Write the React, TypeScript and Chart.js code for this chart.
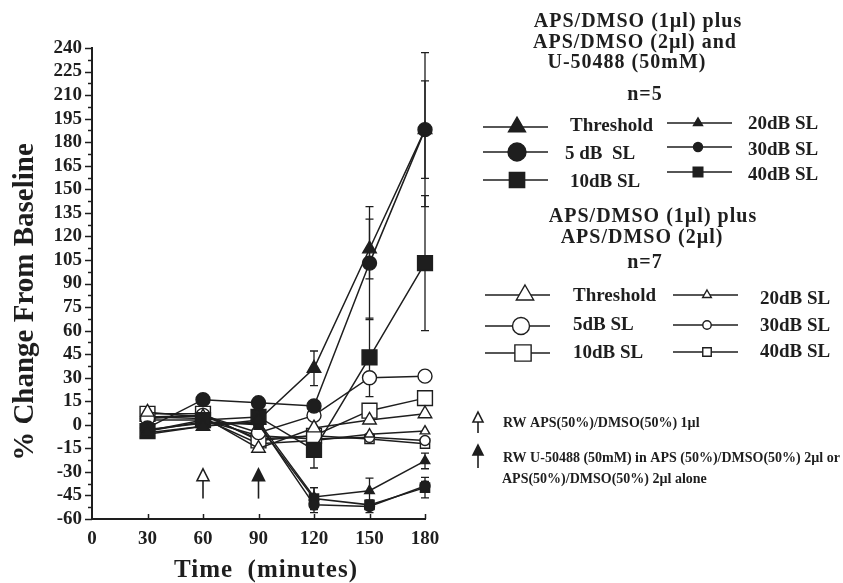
import React, { useEffect, useRef } from 'react';
import { Chart, registerables } from 'chart.js';
import { drawPoint } from 'chart.js/helpers';

Chart.register(...registerables);

const INK = '#1e1e1e';
const SERIF = '"Liberation Serif", "Times New Roman", serif';

// ---------- data ----------
const times = [30, 60, 90, 120, 150, 180];
const xTickValues = [0, 30, 60, 90, 120, 150, 180];
const yMin = -60;
const yMax = 240;
const yMajorStep = 15;
const yMinorStep = 7.5;

// APS/DMSO (1µl) plus APS/DMSO (2µl) and U-50488 (50mM), n=5 (filled symbols)
const uThreshold = [-5, -1, 3, 36, 112, 188];
const uThresholdErr = [0, 0, 0, 11, 19, 49];
const u5dB = [-2, 16, 14, 12, 103, 188];
const u5dBErr = [0, 0, 0, 0, 36, 31];
const u10dB = [-4, 3, 5, -16, 43, 103];
const u10dBErr = [0, 0, 0, 11.5, 25, 43];
const u20dB = [-6, -1, 2, -46, -42, -23];
const u20dBErr = [0, 0, 0, 6, 8, 5];
const u30dB = [-3, 1, 1, -51, -52, -39];
const u30dBErr = [0, 0, 0, 5, 4, 3];
const u40dB = [-4, 2, 0, -47, -51, -40];
const u40dBErr = [0, 0, 0, 7, 3, 6.5];

// APS/DMSO (1µl) plus APS/DMSO (2µl), n=7 (open symbols)
const aThreshold = [8, 5, -15, -2, 3, 7];
const a5dB = [4, 6, -5, 6, 30, 31];
const a10dB = [7, 7, -10, -7, 9, 17];
const a20dB = [5, 4, -12, -10, -6, -4];
const a30dB = [3, 3, -7, -9, -8, -10];
const a40dB = [5, 6, -9, -7, -9, -12];

// injection arrows
const arrowTimes = [60, 90];
const arrowFilled = [false, true];
const arrowTipValue = -28;
const arrowTailValue = -47;

// texts
const yTitle = '% Change From Baseline';
const xTitle = 'Time  (minutes)';
const titleU = ['APS/DMSO (1µl) plus', 'APS/DMSO (2µl) and', 'U-50488 (50mM)'];
const nU = 'n=5';
const labelsU = ['Threshold', '5 dB  SL', '10dB SL', '20dB SL', '30dB SL', '40dB SL'];
const titleA = ['APS/DMSO (1µl) plus', 'APS/DMSO (2µl)'];
const nA = 'n=7';
const labelsA = ['Threshold', '5dB SL', '10dB SL', '20dB SL', '30dB SL', '40dB SL'];
const notes = [
  'RW APS(50%)/DMSO(50%) 1µl',
  'RW U-50488 (50mM) in APS (50%)/DMSO(50%) 2µl or',
  'APS(50%)/DMSO(50%) 2µl alone',
];

// ---------- styles ----------
const styles = ['triangle', 'circle', 'rect', 'triangle', 'circle', 'rect'];
const chartRadii = [7.8, 7, 10.5, 5.5, 5, 6.5];
const legendRadiiU = [9.8, 9, 10.8, 5.2, 4.5, 6.8];
const legendRadiiA = [10, 8.5, 11.5, 5, 4.2, 6];

function makeDataset(label: string, values: number[], errors: number[] | null, idx: number, filled: boolean) {
  return {
    label,
    data: times.map((t, i) => ({ x: t, y: values[i] })),
    errors,
    pointStyle: styles[idx],
    pointRadius: chartRadii[idx],
    pointBackgroundColor: filled ? INK : '#ffffff',
    pointBorderColor: INK,
    pointBorderWidth: 1.4,
    borderColor: INK,
    borderWidth: 1.5,
    showLine: true,
    fill: false,
    tension: 0,
    clip: false,
  };
}

const datasets = [
  makeDataset('Threshold (U-50488)', uThreshold, uThresholdErr, 0, true),
  makeDataset('5 dB SL (U-50488)', u5dB, u5dBErr, 1, true),
  makeDataset('10dB SL (U-50488)', u10dB, u10dBErr, 2, true),
  makeDataset('20dB SL (U-50488)', u20dB, u20dBErr, 3, true),
  makeDataset('30dB SL (U-50488)', u30dB, u30dBErr, 4, true),
  makeDataset('40dB SL (U-50488)', u40dB, u40dBErr, 5, true),
  makeDataset('Threshold (APS/DMSO)', aThreshold, null, 0, false),
  makeDataset('5dB SL (APS/DMSO)', a5dB, null, 1, false),
  makeDataset('10dB SL (APS/DMSO)', a10dB, null, 2, false),
  makeDataset('20dB SL (APS/DMSO)', a20dB, null, 3, false),
  makeDataset('30dB SL (APS/DMSO)', a30dB, null, 4, false),
  makeDataset('40dB SL (APS/DMSO)', a40dB, null, 5, false),
];

function font(size: number) {
  return `bold ${size}px ${SERIF}`;
}

function marker(ctx: CanvasRenderingContext2D, style: string, r: number, x: number, y: number, filled: boolean) {
  ctx.save();
  ctx.fillStyle = filled ? INK : '#ffffff';
  ctx.strokeStyle = INK;
  ctx.lineWidth = 1.4;
  drawPoint(ctx, { pointStyle: style, radius: r, borderWidth: 1.4, rotation: 0 } as any, x, y);
  ctx.restore();
}

function arrow(ctx: CanvasRenderingContext2D, x: number, yTip: number, yTail: number, filled: boolean, w: number, h: number) {
  ctx.save();
  ctx.strokeStyle = INK;
  ctx.fillStyle = filled ? INK : '#ffffff';
  ctx.lineWidth = 1.6;
  ctx.beginPath();
  ctx.moveTo(x, yTip + h);
  ctx.lineTo(x, yTail);
  ctx.stroke();
  ctx.beginPath();
  ctx.moveTo(x, yTip);
  ctx.lineTo(x + w / 2, yTip + h);
  ctx.lineTo(x - w / 2, yTip + h);
  ctx.closePath();
  ctx.fill();
  ctx.stroke();
  ctx.restore();
}

function legendRow(ctx: CanvasRenderingContext2D, x0: number, x1: number, mx: number, ly: number, style: string, r: number, filled: boolean, text: string, tx: number, ty: number) {
  ctx.save();
  ctx.strokeStyle = INK;
  ctx.lineWidth = 1.5;
  ctx.beginPath();
  ctx.moveTo(x0, ly);
  ctx.lineTo(x1, ly);
  ctx.stroke();
  ctx.restore();
  marker(ctx, style, r, mx, ly, filled);
  ctx.fillText(text, tx, ty);
}

function setSpacing(ctx: any, px: number) {
  if ('letterSpacing' in ctx) ctx.letterSpacing = `${px}px`;
}

const decor = {
  id: 'decor',
  beforeDatasetsDraw(chart: any) {
    const { ctx } = chart;
    const xs = chart.scales.x;
    const ys = chart.scales.y;
    ctx.save();
    ctx.strokeStyle = INK;
    ctx.lineWidth = 1.3;
    chart.data.datasets.forEach((ds: any) => {
      if (!ds.errors) return;
      ds.data.forEach((p: any, i: number) => {
        const e = ds.errors[i];
        if (!e) return;
        const px = xs.getPixelForValue(p.x);
        const top = ys.getPixelForValue(p.y + e);
        const bot = ys.getPixelForValue(p.y - e);
        ctx.beginPath();
        ctx.moveTo(px, top);
        ctx.lineTo(px, bot);
        ctx.moveTo(px - 4, top);
        ctx.lineTo(px + 4, top);
        ctx.moveTo(px - 4, bot);
        ctx.lineTo(px + 4, bot);
        ctx.stroke();
      });
    });
    ctx.restore();
  },
  afterDraw(chart: any) {
    const { ctx, chartArea } = chart;
    const xs = chart.scales.x;
    const ys = chart.scales.y;
    ctx.save();
    ctx.strokeStyle = INK;
    ctx.fillStyle = INK;
    ctx.lineWidth = 1.5;

    // y ticks (major + minor, outward)
    for (let v = yMin; v <= yMax + 0.001; v += yMinorStep) {
      const py = Math.round(ys.getPixelForValue(v)) + 0.5;
      const len = Math.abs(v % yMajorStep) < 0.01 ? 7 : 4;
      ctx.beginPath();
      ctx.moveTo(chartArea.left - len, py);
      ctx.lineTo(chartArea.left, py);
      ctx.stroke();
    }
    // x ticks (inward)
    xTickValues.forEach((v) => {
      if (v === 0) return;
      const px = Math.round(xs.getPixelForValue(v)) + 0.5;
      ctx.beginPath();
      ctx.moveTo(px, chartArea.bottom);
      ctx.lineTo(px, chartArea.bottom - 5);
      ctx.stroke();
    });

    // arrows in plot
    arrowTimes.forEach((t, i) => {
      arrow(ctx, xs.getPixelForValue(t), ys.getPixelForValue(arrowTipValue), ys.getPixelForValue(arrowTailValue), arrowFilled[i], 12, 12);
    });

    // axis titles
    ctx.textBaseline = 'alphabetic';
    ctx.textAlign = 'center';
    ctx.font = font(25);
    setSpacing(ctx, 1);
    ctx.fillText(xTitle, 266, 577);
    setSpacing(ctx, 0);
    ctx.save();
    ctx.translate(33, 302);
    ctx.rotate(-Math.PI / 2);
    ctx.font = font(29);
    ctx.fillText(yTitle, 0, 0);
    ctx.restore();

    // legend group 1
    ctx.font = font(20);
    setSpacing(ctx, 1);
    ctx.textAlign = 'center';
    ctx.fillText(titleU[0], 638, 27);
    ctx.fillText(titleU[1], 635, 48);
    ctx.fillText(titleU[2], 627, 68);
    ctx.fillText(nU, 645, 100);
    setSpacing(ctx, 0);
    ctx.textAlign = 'left';
    ctx.font = font(19);
    const u1y = [127, 152, 180];
    const u1ty = [131, 159, 187];
    const u2y = [123, 147, 172];
    const u2ty = [129, 155, 180];
    for (let i = 0; i < 3; i++) {
      legendRow(ctx, 483, 548, 517, u1y[i], styles[i], legendRadiiU[i], true, labelsU[i], i === 1 ? 565 : 570, u1ty[i]);
      legendRow(ctx, 667, 732, 698, u2y[i], styles[i + 3], legendRadiiU[i + 3], true, labelsU[i + 3], 748, u2ty[i]);
    }

    // legend group 2
    ctx.font = font(20);
    setSpacing(ctx, 1);
    ctx.textAlign = 'center';
    ctx.fillText(titleA[0], 653, 222);
    ctx.fillText(titleA[1], 642, 243);
    ctx.fillText(nA, 645, 268);
    setSpacing(ctx, 0);
    ctx.textAlign = 'left';
    ctx.font = font(19);
    const a1y = [295, 326, 353];
    const a1ty = [301, 330, 358];
    const a2y = [295, 325, 352];
    const a2ty = [304, 331, 357];
    const a1mx = [525, 521, 523];
    for (let i = 0; i < 3; i++) {
      legendRow(ctx, 485, 550, a1mx[i], a1y[i], styles[i], legendRadiiA[i], false, labelsA[i], 573, a1ty[i]);
      legendRow(ctx, 673, 738, 707, a2y[i], styles[i + 3], legendRadiiA[i + 3], false, labelsA[i + 3], 760, a2ty[i]);
    }

    // notes
    arrow(ctx, 478, 412, 433, false, 10, 10);
    arrow(ctx, 478, 445, 468, true, 10, 10);
    ctx.font = font(14);
    ctx.fillText(notes[0], 503, 427);
    ctx.fillText(notes[1], 503, 462);
    ctx.fillText(notes[2], 502, 483);

    ctx.restore();
  },
};

export default function App() {
  const ref = useRef<HTMLCanvasElement>(null);
  useEffect(() => {
    const tickFont = { family: SERIF, size: 19, weight: 'bold' as const };
    const chart = new Chart(ref.current as HTMLCanvasElement, {
      type: 'line',
      data: { datasets: datasets as any },
      options: {
        responsive: false,
        animation: false,
        devicePixelRatio: 1,
        layout: { padding: { top: 48, right: 418, left: 0, bottom: 0 } },
        plugins: { legend: { display: false }, tooltip: { enabled: false } },
        scales: {
          x: {
            type: 'linear',
            min: 0,
            max: 180,
            afterBuildTicks: (s: any) => {
              s.ticks = xTickValues.map((v) => ({ value: v }));
            },
            afterFit: (s: any) => {
              s.height = 64;
            },
            ticks: { font: tickFont, color: INK, padding: 9, maxRotation: 0, autoSkip: false },
            grid: { display: false, drawTicks: false },
            border: { display: true, color: INK, width: 2 },
          },
          y: {
            type: 'linear',
            min: yMin,
            max: yMax,
            afterBuildTicks: (s: any) => {
              const t: any[] = [];
              for (let v = yMin; v <= yMax; v += yMajorStep) t.push({ value: v });
              s.ticks = t;
            },
            afterFit: (s: any) => {
              s.width = 92;
            },
            ticks: { font: tickFont, color: INK, padding: 10, autoSkip: false },
            grid: { display: false, drawTicks: false },
            border: { display: true, color: INK, width: 2 },
          },
        },
      } as any,
      plugins: [decor],
    });
    return () => chart.destroy();
  }, []);
  return (
    <div style={{ position: 'absolute', left: 0, top: 0, width: 843, height: 583, background: '#fff' }}>
      <canvas ref={ref} width={843} height={583} style={{ display: 'block', width: 843, height: 583 }} />
    </div>
  );
}
